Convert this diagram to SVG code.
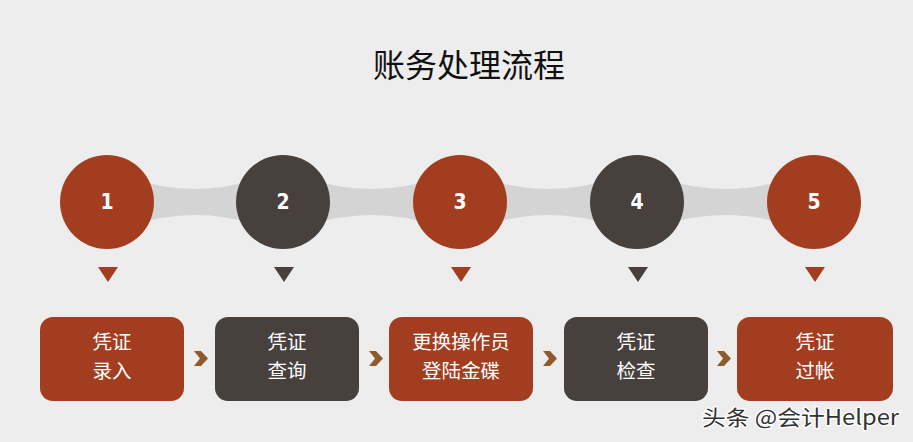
<svg xmlns="http://www.w3.org/2000/svg" width="913" height="442" viewBox="0 0 913 442">
<defs>
<style>
.red{fill:#A23E1F}
.dark{fill:#47403D}
.band{fill:#D4D4D4}
.chev{fill:#8F5A2E}
.num{font-family:"Liberation Sans Narrow","DejaVu Sans Condensed","Liberation Sans",sans-serif;font-weight:bold;font-size:21px;fill:#FFFFFF;text-anchor:middle}
.lbl{font-family:"Noto Sans CJK SC","Noto Sans",sans-serif;font-size:19.5px;fill:#FFFFFF;text-anchor:middle}
.title{font-family:"Noto Sans CJK SC","Noto Sans",sans-serif;font-size:32px;fill:#111111;text-anchor:middle}
.wm{font-family:"Noto Sans CJK SC","Liberation Sans",sans-serif;font-size:21px;fill:#333333;stroke:#FFFFFF;stroke-width:2.5px;paint-order:stroke}
</style>
<path id="chevron" d="M0,0 L7,0 L14,7.5 L7,15 L0,15 L6,7.5 Z"/>
</defs>
<rect x="0" y="0" width="913" height="442" fill="#EDEDED"/>
<text class="title" x="469" y="77">账务处理流程</text>
<g id="connectors">
<path class="band" d="M130,178 Q195,200 260,178 L260,226 Q195,204 130,226 Z"/>
<path class="band" d="M306,178 Q372,200 437,178 L437,226 Q372,204 306,226 Z"/>
<path class="band" d="M483,178 Q549,200 614,178 L614,226 Q549,204 483,226 Z"/>
<path class="band" d="M660,178 Q726,200 791,178 L791,226 Q726,204 660,226 Z"/>
<use href="#chevron" class="chev" x="194" y="351"/>
<use href="#chevron" class="chev" x="369" y="351"/>
<use href="#chevron" class="chev" x="543" y="351"/>
<use href="#chevron" class="chev" x="717" y="351"/>
</g>
<g id="step1">
<circle class="red" cx="107" cy="202" r="47"/>
<text class="num" x="107" y="209">1</text>
<path class="red" d="M98,267 L118,267 L108,282 Z"/>
<rect class="red" x="40" y="317" width="144" height="84" rx="13"/>
<text class="lbl" x="112" y="349">凭证<tspan x="112" dy="28.5">录入</tspan></text>
</g>
<g id="step2">
<circle class="dark" cx="283" cy="202" r="47"/>
<text class="num" x="283" y="209">2</text>
<path class="dark" d="M274,267 L294,267 L284,282 Z"/>
<rect class="dark" x="215" y="317" width="144" height="84" rx="13"/>
<text class="lbl" x="287" y="349">凭证<tspan x="287" dy="28.5">查询</tspan></text>
</g>
<g id="step3">
<circle class="red" cx="460" cy="202" r="47"/>
<text class="num" x="460" y="209">3</text>
<path class="red" d="M451,267 L471,267 L461,282 Z"/>
<rect class="red" x="389" y="317" width="144" height="84" rx="13"/>
<text class="lbl" x="461" y="349">更换操作员<tspan x="461" dy="28.5">登陆金碟</tspan></text>
</g>
<g id="step4">
<circle class="dark" cx="637" cy="202" r="47"/>
<text class="num" x="637" y="209">4</text>
<path class="dark" d="M628,267 L648,267 L638,282 Z"/>
<rect class="dark" x="564" y="317" width="144" height="84" rx="13"/>
<text class="lbl" x="636" y="349">凭证<tspan x="636" dy="28.5">检查</tspan></text>
</g>
<g id="step5">
<circle class="red" cx="814" cy="202" r="47"/>
<text class="num" x="814" y="209">5</text>
<path class="red" d="M805,267 L825,267 L815,282 Z"/>
<rect class="red" x="737" y="317" width="156" height="84" rx="13"/>
<text class="lbl" x="815" y="349">凭证<tspan x="815" dy="28.5">过帐</tspan></text>
</g>
<text class="wm" x="702" y="425" textLength="197" lengthAdjust="spacingAndGlyphs">头条 @会计Helper</text>
</svg>
